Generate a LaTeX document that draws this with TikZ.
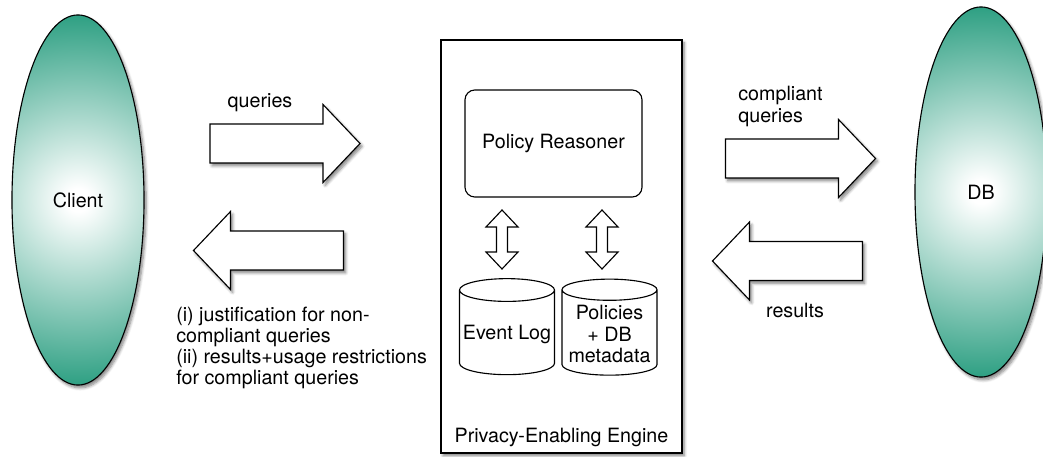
\documentclass[tikz,border=0pt]{standalone}
\usepackage{fontspec}
\setmainfont{TeX Gyre Heros}
\usepackage{xcolor}
\definecolor{peteal}{RGB}{38,156,126}
\usepackage{tikz}
\usetikzlibrary{shapes.geometric, positioning, shadows.blur}

\pgfdeclareradialshading{partyshade}{\pgfpoint{0bp}{0bp}}{%
    color(0bp)=(white); color(1.5bp)=(white); color(25bp)=(peteal); color(50bp)=(peteal)}

\tikzset{
    softshadow/.style={blur shadow={shadow xshift=1.5pt, shadow yshift=-2pt,
                       shadow blur steps=6, shadow opacity=50}},
    pics/blockarrow/.style={code={
        \draw[fill=white, thick, softshadow]
            (-75,-19.5) -- (38,-19.5) -- (38,-39) -- (75,0) -- (38,39)
            -- (38,19.5) -- (-75,19.5) -- cycle;
    }},
    pics/duplexarrow/.style={code={
        \draw[fill=white, thick]
            (0,-29.5) -- (16,-12.5) -- (5.5,-12.5) -- (5.5,12.5) -- (16,12.5)
            -- (0,29.5) -- (-16,12.5) -- (-5.5,12.5) -- (-5.5,-12.5)
            -- (-16,-12.5) -- cycle;
    }},
}

\begin{document}
\begin{tikzpicture}[
    x=0.025cm, y=-0.025cm,
    font=\fontsize{14}{15}\selectfont,
    partybox/.style={ellipse, draw, thick, fill=white,
                     minimum width=3.3cm, minimum height=9.25cm, softshadow,
                     path picture={\shade[shading=partyshade]
                        (path picture bounding box.center) circle [radius=4.8cm];}},
    engbox/.style={rectangle, draw, thick, fill=white, minimum width=6.025cm,
                   minimum height=10.325cm, softshadow},
    reasbox/.style={rectangle, draw, thick, rounded corners=7pt, fill=white,
                    minimum width=4.425cm, minimum height=2.675cm},
    storecyl/.style={cylinder, draw, thick, shape border rotate=90, aspect=0.25,
                     minimum width=2.375cm, minimum height=2.4cm, inner sep=1pt,
                     align=center},
    lbl/.style={align=left, inner sep=0pt},
]
\useasboundingbox (0,0) rectangle (1043,457);

\node[partybox] (client) at (78,200) {Client};
\node[partybox] (db) at (981,192) {DB};

\node[engbox] (engine) at (561.5,246.5) {};
\node[lbl] (engname) at (561.5,437) {Privacy-Enabling Engine};

\node[reasbox] (reasoner) at (553.5,143.5) {Policy Reasoner};

\node[storecyl] (log) at (507,334) {Event Log};
\node[storecyl] (pol) at (609.5,334) {Policies\\+ DB\\metadata};

\pic (logarr) at (502,239.5) {duplexarrow};
\pic (polarr) at (602,239.5) {duplexarrow};

% client <-> engine
\pic (qarr) at (285,143.5) {blockarrow};
\pic[rotate=180] (jarr) at (268.5,250.5) {blockarrow};
\node[lbl] (qlbl) at (260,103) {queries};
\node[lbl, anchor=west] (jlbl) at (176,348) {(i) justification for non-\\compliant queries\\(ii) results+usage restrictions\\for compliant queries};

% engine <-> db
\pic (carr) at (800.5,158.5) {blockarrow};
\pic[rotate=180] (rarr) at (787.5,261) {blockarrow};
\node[lbl, anchor=west] (clbl) at (738,106.5) {compliant\\queries};
\node[lbl] (rlbl) at (795,310) {results};

\end{tikzpicture}
\end{document}
